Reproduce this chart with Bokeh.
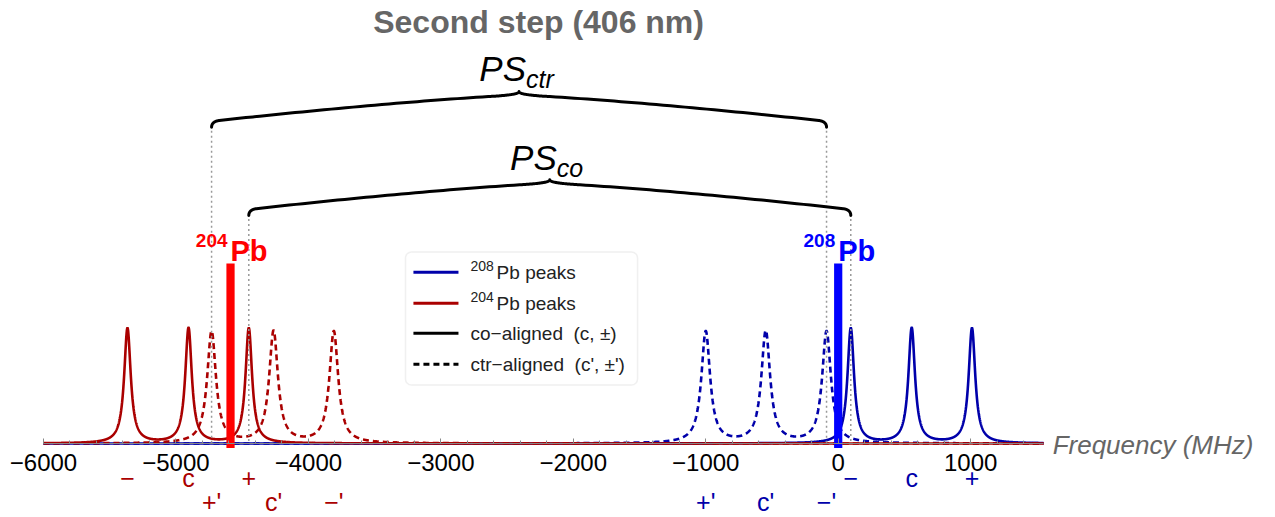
import numpy as np
from bokeh.plotting import figure
from bokeh.models import Range1d, FixedTicker, BoxAnnotation
from bokeh.core.properties import value
from bokeh.embed import file_html
from bokeh.resources import INLINE

FONT = "Liberation Sans"

# Resonance positions in MHz, relative to the 208Pb centroid
pb208_co = [95, 555, 1010]          # -, c, +   (co-aligned)
pb208_ctr = [-1000, -547, -88]      # +', c', -' (counter-aligned)
pb204_co = [-5366, -4905, -4450]    # -, c, +
pb204_ctr = [-4731, -4263, -3808]   # +', c', -'
co_names = ["−", "c", "+"]
ctr_names = ["+'", "c'", "−'"]

# Isotope centroids (thick bars)
centroid_pos = [-4588, 0]
centroid_mass = ["204", "208"]
centroid_height = 1.565

# Line-shape parameters
amp_co, amp_ctr = 1.0, 0.97
hwhm_co, hwhm_ctr = 30.0, 40.0

x_ticks = [-6000, -5000, -4000, -3000, -2000, -1000, 0, 1000]
x_minor = list(range(-6000, 1501, 200))

DARK_BLUE = "#0000aa"
DARK_RED = "#aa0000"
RED = "#ff0000"
BLUE = "#0000ff"
GREY = "#666666"

F_MIN, F_MAX = -6000, 1550          # spectrum / axis extent
PX_PER_MHZ = 0.13245
PX_PER_UNIT = 115.0
X_START = F_MIN - 43 / PX_PER_MHZ
X_END = X_START + 1275 / PX_PER_MHZ
Y_START = -(517 - 443) / PX_PER_UNIT
Y_END = 443 / PX_PER_UNIT

freq = np.linspace(F_MIN, F_MAX, 7551)


def lorentz_profile(centres, amp, hwhm):
    out = np.zeros_like(freq)
    for c in centres:
        out += amp * hwhm ** 2 / ((freq - c) ** 2 + hwhm ** 2)
    return out


# curly brace built from cubic Bezier pieces (normalised half brace)
HOOK = [(0.0, 0.0), (0.0, 0.10), (0.008, 0.17), (0.025, 0.19)]
ARM = [(0.025, 0.19), (0.30, 0.45), (0.65, 0.73), (0.90, 0.86)]
CUSP = [(0.90, 0.86), (0.95, 0.886), (1.0, 0.92), (1.0, 1.0)]


def cubic(pts, n=40):
    t = np.linspace(0, 1, n)[:, None]
    P = np.array(pts, dtype=float)
    return ((1 - t) ** 3 * P[0] + 3 * (1 - t) ** 2 * t * P[1]
            + 3 * (1 - t) * t ** 2 * P[2] + t ** 3 * P[3])


def brace_path(x0, x1, y0, h):
    half = np.vstack([cubic(HOOK), cubic(ARM)[1:], cubic(CUSP)[1:]])
    u = np.concatenate([half[:, 0], 2 - half[::-1, 0][1:]])
    v = np.concatenate([half[:, 1], half[::-1, 1][1:]])
    return x0 + u * (x1 - x0) / 2, y0 + v * h


p = figure(width=1275, height=517,
           x_range=Range1d(X_START, X_END), y_range=Range1d(Y_START, Y_END),
           output_backend="svg", toolbar_location=None, title=None,
           y_axis_location=None,
           min_border_left=0, min_border_right=0,
           min_border_top=0, min_border_bottom=0)
p.grid.visible = False
p.outline_line_color = None
p.background_fill_color = "white"
p.border_fill_color = "white"

ax = p.xaxis[0]
ax.fixed_location = 0
ax.bounds = (F_MIN, F_MAX)
ax.ticker = FixedTicker(ticks=x_ticks, minor_ticks=x_minor)
ax.major_label_overrides = {t: str(t).replace("-", "−") for t in x_ticks}
ax.major_label_text_font = FONT
ax.major_label_text_font_size = "24px"
ax.major_label_text_color = "black"
ax.major_label_standoff = 10
ax.axis_line_color = "#888888"
ax.major_tick_line_color = "#888888"
ax.minor_tick_line_color = "#888888"
ax.major_tick_in = 5
ax.major_tick_out = 0
ax.minor_tick_in = 3
ax.minor_tick_out = 0


def label(x, y, text, size, color="black", style="normal", align="left",
          baseline="middle", x_offset=0):
    p.text(x=[x], y=[y], text=[text], text_align=align, text_baseline=baseline,
           x_offset=x_offset, text_font=value(FONT), text_font_style=style,
           text_font_size=size, text_color=color)


# spectra
p.line(freq, lorentz_profile(pb208_co, amp_co, hwhm_co), color=DARK_BLUE, line_width=2.6)
p.line(freq, lorentz_profile(pb208_ctr, amp_ctr, hwhm_ctr), color=DARK_BLUE,
       line_width=2.6, line_dash="6 4")
p.line(freq, lorentz_profile(pb204_co, amp_co, hwhm_co), color=DARK_RED, line_width=2.6)
p.line(freq, lorentz_profile(pb204_ctr, amp_ctr, hwhm_ctr), color=DARK_RED,
       line_width=2.6, line_dash="6 4")

# braces for the isotope shifts
BRACE_H = 0.31
braces = [
    (pb204_ctr[0], pb208_ctr[2], 2.750, "ctr"),
    (pb204_co[2], pb208_co[0], 1.983, "co"),
]
for xa, xb, yb, sub in braces:
    p.segment(x0=[xa, xb], y0=[yb - 0.03, yb - 0.03], x1=[xa, xb], y1=[0, 0],
              line_color="#999999", line_width=1.5, line_dash="2 3")
    bx, by = brace_path(xa, xb, yb, BRACE_H)
    p.line(bx, by, color="black", line_width=3, line_join="round", line_cap="round")
    tip = (xa + xb) / 2
    label(tip, yb + BRACE_H + 0.197, "PS", "35px", style="italic", align="right", x_offset=7)
    label(tip, yb + BRACE_H + 0.107, sub, "25px", style="italic", align="left", x_offset=7)

# isotope centroids
p.vbar(x=centroid_pos, top=centroid_height, bottom=-0.04, width=62,
       fill_color=[RED, BLUE], line_color=None)
for xc, mass, col in zip(centroid_pos, centroid_mass, [RED, BLUE]):
    label(xc, centroid_height + 0.20, mass, "19px", color=col, style="bold",
          align="right", x_offset=-3)
    label(xc, centroid_height + 0.105, "Pb", "29px", color=col, style="bold", align="left")

# legend
legend_box = BoxAnnotation(left=-3267, right=-1515, top=1.665, bottom=0.508,
                           fill_color="white", fill_alpha=1.0,
                           line_color="#cccccc", line_width=1.5,
                           border_radius=6, level="underlay")
p.add_layout(legend_box)
rows_y = [1.490, 1.220, 0.959, 0.690]
row_colors = [DARK_BLUE, DARK_RED, "black", "black"]
row_dash = ["solid", "solid", "solid", "6 4"]
for ry, col, dash in zip(rows_y, row_colors, row_dash):
    p.line([-3207, -2867], [ry, ry], color=col, line_width=3, line_dash=dash)
for ry, mass in zip(rows_y[:2], ["208", "204"]):
    label(-2776, ry + 0.05, mass, "14px", color="#222222")
    label(-2579, ry, "Pb peaks", "19px", color="#222222")
for ry, txt in zip(rows_y[2:], ["co−aligned \u00a0(c, ±)", "ctr−aligned \u00a0(c', ±')"]):
    label(-2776, ry, txt, "19px", color="#222222")

# peak names below the axis
for pos, col in [(pb204_co, DARK_RED), (pb208_co, DARK_BLUE)]:
    for xv, nm in zip(pos, co_names):
        label(xv, -0.296, nm, "25px", color=col, align="center")
for pos, col in [(pb204_ctr, DARK_RED), (pb208_ctr, DARK_BLUE)]:
    for xv, nm in zip(pos, ctr_names):
        label(xv, -0.505, nm, "25px", color=col, align="center")

# axis title and plot heading
label(1619, -0.017, "Frequency (MHz)", "26px", color=GREY, style="italic")
label(-2262, 3.661, "Second step (406 nm)", "32px", color=GREY, style="bold", align="center")

open("out.html", "w").write(file_html(p, INLINE))
